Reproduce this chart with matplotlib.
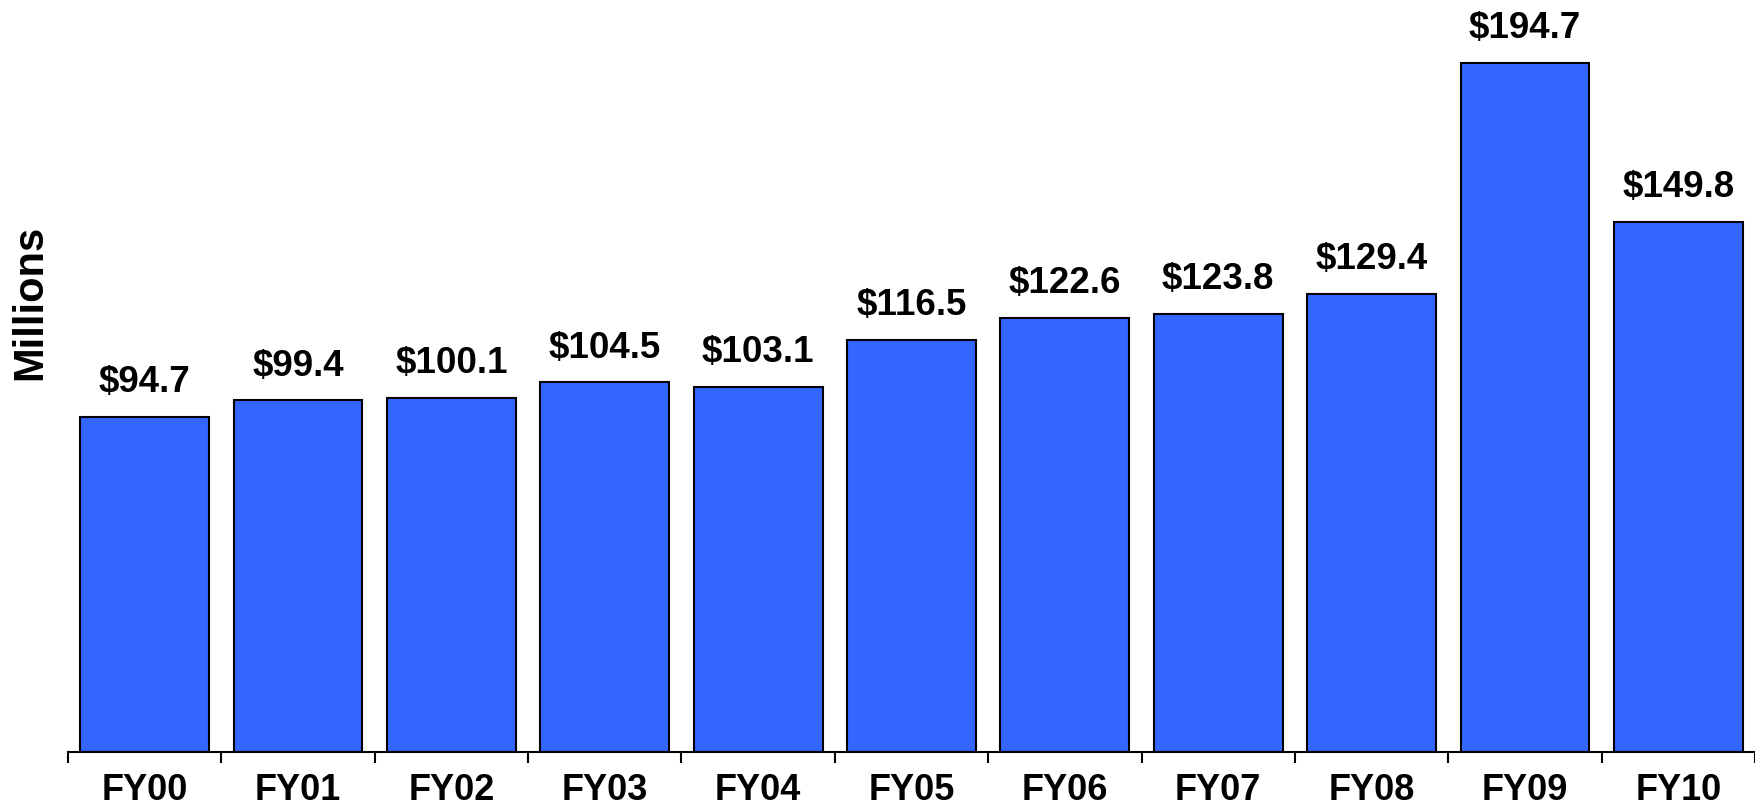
import matplotlib.pyplot as plt
import numpy as np

# data
years = ['FY00', 'FY01', 'FY02', 'FY03', 'FY04', 'FY05', 'FY06', 'FY07', 'FY08', 'FY09', 'FY10']
values = [94.7, 99.4, 100.1, 104.5, 103.1, 116.5, 122.6, 123.8, 129.4, 194.7, 149.8]

plt.rcParams['font.family'] = ['Liberation Sans', 'DejaVu Sans']
plt.rcParams['font.weight'] = 'bold'

fig = plt.figure(figsize=(17.56, 8.09), dpi=100)
ax = fig.add_axes([68 / 1756, 57 / 809, 1687 / 1756, 752 / 809])

x = np.arange(len(years))
bars = ax.bar(x, values, width=0.84, color='#3366FF', edgecolor='black', linewidth=1.5)

for xi, v in zip(x, values):
    ax.annotate(f'${v:.1f}', (xi, v), xytext=(0, 12), textcoords='offset points',
                ha='center', va='bottom', fontsize=26.5, fontweight='bold')

ax.set_xlim(-0.5, len(years) - 0.5)
ax.set_ylim(0, 212.5)

ax.set_xticks(x)
ax.set_xticklabels(years, fontsize=26, fontweight='bold')
ax.set_xticks(np.arange(-0.5, len(years)), minor=True)
ax.tick_params(axis='x', which='major', length=0, pad=15)
ax.tick_params(axis='x', which='minor', length=8, width=1.5, direction='out')
ax.set_yticks([])

for s in ['top', 'right', 'left']:
    ax.spines[s].set_visible(False)
ax.spines['bottom'].set_linewidth(1.5)

fig.text(30 / 1756, 1 - 302 / 809, 'Millions', rotation=90, ha='center', va='center',
         fontsize=30, fontweight='bold')

fig.savefig('out.png', dpi=100)
